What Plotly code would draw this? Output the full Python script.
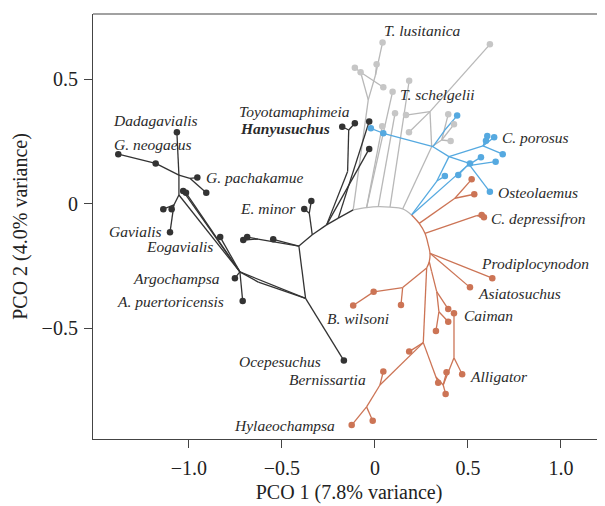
import plotly.graph_objects as go

# ---------------- data (PCO1, PCO2) ----------------
arc_names = ["A0","A1","A2","A3","A4","A5","A6","A7","A8","A9","A10","A11","A12"]
arc_x = [-0.197,-0.117,-0.045,0.018,0.081,0.149,0.197,0.238,0.269,0.287,0.296,0.292,0.278]
arc_y = [-0.057,-0.024,-0.015,-0.011,-0.013,-0.020,-0.044,-0.078,-0.118,-0.165,-0.198,-0.232,-0.257]

black_names = ["dada","neog","t_neog2","N1","Np","pach","t_p2","N2","N3","t_g1","t_g2","gavialis",
               "t_e1","t_e2","t_e3","N5","argo","apuer","N7","N8","oce","N9","t_l1","N10","t_l2","t_l3",
               "N11","Nem","em1","em2","N12","N13","N14","han1","han2","bk1","bk2"]
black_x = [-1.065,-1.380,-1.179,-1.054,-0.995,-0.955,-0.907,-1.054,-1.081,-1.138,-1.093,-1.102,
           -1.031,-1.016,-0.832,-0.726,-0.753,-0.711,-0.627,-0.373,-0.167,-0.409,-0.547,-0.629,-0.687,-0.708,
           -0.337,-0.353,-0.380,-0.342,-0.260,-0.147,-0.141,-0.176,-0.108,-0.031,-0.031]
black_y = [0.288,0.200,0.163,0.116,0.103,0.106,0.045,0.036,-0.004,-0.021,-0.021,-0.114,
           0.052,0.045,-0.133,-0.273,-0.298,-0.390,-0.314,-0.379,-0.629,-0.169,-0.142,-0.141,-0.133,-0.145,
           -0.124,-0.037,-0.020,0.012,-0.084,0.130,0.297,0.310,0.324,0.221,0.331]
black_tips = ["dada","neog","t_neog2","pach","t_p2","t_g1","t_g2","gavialis","t_e1","t_e2","t_e3",
              "argo","apuer","oce","t_l1","t_l2","t_l3","em1","em2","han1","han2","bk1","bk2"]
black_edges = [("N1","dada"),("N1","t_neog2"),("t_neog2","neog"),("N1","Np"),("Np","pach"),("Np","t_p2"),
               ("N1","N2"),("N2","N3"),("N3","t_g1"),("N3","t_g2"),("N3","gavialis"),("N2","N5"),
               ("N5","t_e1"),("N5","t_e2"),("N5","t_e3"),("N5","argo"),("N5","apuer"),("N5","N7"),
               ("N7","N8"),("N5","N8"),("N8","oce"),("N8","N9"),("N9","N10"),("N10","t_l2"),("N10","t_l3"),
               ("N9","t_l1"),("N9","N11"),("N11","Nem"),("Nem","em1"),("Nem","em2"),("N11","N12"),
               ("N12","A0"),("N12","N13"),("N13","N14"),("N14","han1"),("N14","han2"),("N12","bk1"),("A0","bk2")]

gray_names = ["lus","g_t2","g_t3","g_t4","g_t5","g_t6","g_t7","g_t8","g_t9","g_t10","g_t11","g_t12",
              "g_t13","g_t14","g_t15","G1","G2","G4","G5","G6"]
gray_x = [0.041,0.009,-0.108,-0.077,0.045,0.618,0.184,0.095,0.108,0.167,0.039,0.183,
          0.394,0.425,0.407,-0.036,0.003,0.305,0.296,0.359]
gray_y = [0.649,0.561,0.547,0.529,0.469,0.641,0.495,0.451,0.364,0.357,0.312,0.288,
          0.360,0.320,0.253,0.418,0.518,0.230,0.371,0.257]
gray_tips = ["lus","g_t2","g_t3","g_t4","g_t5","g_t6","g_t7","g_t8","g_t9","g_t10","g_t11","g_t12",
             "g_t13","g_t14","g_t15"]
gray_edges = [("A1","G1"),("G1","G2"),("G2","lus"),("G2","g_t2"),("G1","g_t4"),("g_t4","g_t3"),
              ("g_t4","g_t5"),("A2","g_t8"),("A2","g_t11"),("A3","g_t9"),("A4","g_t7"),("A5","G4"),
              ("G4","G5"),("G5","g_t6"),("G5","g_t10"),("G5","g_t12"),("G4","G6"),("G6","g_t13"),
              ("G6","g_t14"),("G6","g_t15")]

blue_names = ["b_t1","b_t2","b_t3","por1","por2","por3","b_t4","b_t5","b_t6","b_t7","b_t8","b_t9","osteo",
              "B0","B1","B3","B4","B5","B6","B7"]
blue_x = [-0.022,0.045,0.442,0.604,0.641,0.597,0.687,0.570,0.649,0.511,0.448,0.376,0.618,
          0.333,0.398,0.495,0.581,0.500,0.312,0.376]
blue_y = [0.304,0.284,0.355,0.273,0.268,0.254,0.200,0.188,0.170,0.163,0.116,0.112,0.049,
          0.092,0.190,0.153,0.233,0.165,0.230,0.297]
blue_tips = ["b_t1","b_t2","b_t3","por1","por2","por3","b_t4","b_t5","b_t6","b_t7","b_t8","b_t9","osteo"]
blue_edges = [("A6","B0"),("B0","b_t9"),("B0","B1"),("A6","B3"),("B3","b_t8"),("B3","b_t7"),("B3","b_t5"),
              ("B3","b_t6"),("B1","B4"),("B4","por1"),("B4","por2"),("B4","por3"),("B4","b_t4"),
              ("B1","B5"),("B5","osteo"),("B1","B6"),("B6","b_t2"),("b_t2","b_t1"),("B6","B7"),("B7","b_t3")]

orange_names = ["O_a","o_t1","o_t2","O_b","dep1","dep2","prod","asia","W","w_t1","w_t2","bwil",
                "C1","C2","c_t1","C3","c_t2","c_t3","O1","o_t3","O2","o_t4","O3","o_t5","hyl",
                "O4a","o_t6","O4","o_t7","o_t8","O5","alli","caiman"]
orange_x = [0.430,0.520,0.534,0.547,0.574,0.586,0.631,0.511,0.149,0.140,-0.007,-0.117,
            0.305,0.332,0.394,0.344,0.394,0.328,0.260,0.184,0.027,0.045,-0.045,-0.012,-0.125,
            0.328,0.340,0.367,0.380,0.385,0.425,0.469,0.425]
orange_y = [0.023,0.099,0.039,-0.047,-0.044,-0.053,-0.298,-0.335,-0.336,-0.406,-0.353,-0.408,
            -0.272,-0.352,-0.422,-0.433,-0.473,-0.510,-0.557,-0.593,-0.727,-0.673,-0.815,-0.871,-0.888,
            -0.695,-0.718,-0.727,-0.763,-0.676,-0.618,-0.684,-0.439]
orange_tips = ["o_t1","o_t2","dep1","dep2","prod","asia","w_t1","w_t2","bwil","c_t1","c_t2","c_t3",
               "o_t3","o_t4","o_t5","hyl","o_t6","o_t7","o_t8","alli","caiman"]
orange_edges = [("A7","O_a"),("O_a","o_t1"),("O_a","o_t2"),("A8","O_b"),("O_b","dep1"),("O_b","dep2"),
                ("A10","prod"),("A10","asia"),("A12","W"),("W","w_t1"),("W","w_t2"),("w_t2","bwil"),
                ("A11","C1"),("C1","C2"),("C2","c_t1"),("C2","C3"),("C3","c_t2"),("C3","c_t3"),
                ("A12","O1"),("O1","o_t3"),("O1","O2"),("O2","o_t4"),("O2","O3"),("O3","o_t5"),("O3","hyl"),
                ("O1","O4a"),("O4a","o_t6"),("O4a","O4"),("O4","o_t7"),("O4","o_t8"),("O4","O5"),
                ("O5","alli"),("O5","caiman")]

label_text = ["T. lusitanica","T. schelgelii","Toyotamaphimeia","Hanyusuchus","Dadagavialis","G. neogaeus",
              "G. pachakamue","E. minor","Gavialis","Eogavialis","Argochampsa","A. puertoricensis",
              "B. wilsoni","Ocepesuchus","Bernissartia","Hylaeochampsa","C. porosus","Osteolaemus",
              "C. depressifron","Prodiplocynodon","Asiatosuchus","Caiman","Alligator"]
label_x = [0.036,0.122,-0.744,-0.737,-1.419,-1.414,-0.919,-0.735,-1.441,-1.240,-1.312,-1.398,
           -0.269,-0.740,-0.036,-0.767,0.672,0.651,0.615,0.561,0.543,0.466,0.498]
label_y = [0.696,0.438,0.373,0.305,0.337,0.240,0.106,-0.020,-0.111,-0.169,-0.298,-0.392,
           -0.459,-0.631,-0.704,-0.888,0.268,0.045,-0.057,-0.241,-0.359,-0.446,-0.694]
label_anchor = ["left"]*14 + ["right"] + ["left"]*8

x_ticks = [-1.0, -0.5, 0, 0.5, 1.0]
x_ticktext = ["\u22121.0", "\u22120.5", "0", "0.5", "1.0"]
y_ticks = [-0.5, 0, 0.5]
y_ticktext = ["\u22120.5", "0", "0.5"]

# ---------------- build ----------------
nodes = {}
for names, xs, ys in [(arc_names, arc_x, arc_y), (black_names, black_x, black_y),
                      (gray_names, gray_x, gray_y), (blue_names, blue_x, blue_y),
                      (orange_names, orange_x, orange_y)]:
    for n, x, y in zip(names, xs, ys):
        nodes[n] = (x, y)

BLACK = "#333333"
GRAY = "#b8b8b8"
GRAYDOT = "#c6c6c6"
BLUE = "#55a9e0"
ORANGE = "#cc7455"

fig = go.Figure()

def add_edges(edges, color):
    xs, ys = [], []
    for a, b in edges:
        xs += [nodes[a][0], nodes[b][0], None]
        ys += [nodes[a][1], nodes[b][1], None]
    fig.add_trace(go.Scatter(x=xs, y=ys, mode="lines", line=dict(color=color, width=1.3),
                             hoverinfo="skip", showlegend=False))

def add_arc(i0, i1, color):
    fig.add_trace(go.Scatter(x=arc_x[i0:i1 + 1], y=arc_y[i0:i1 + 1], mode="lines",
                             line=dict(color=color, width=1.3, shape="spline"),
                             hoverinfo="skip", showlegend=False))

def add_tips(tips, color):
    fig.add_trace(go.Scatter(x=[nodes[t][0] for t in tips], y=[nodes[t][1] for t in tips],
                             mode="markers", marker=dict(color=color, size=6.5),
                             hoverinfo="skip", showlegend=False))

add_edges(gray_edges, GRAY)
add_arc(1, 6, GRAY)
add_edges(blue_edges, BLUE)
add_edges(orange_edges, ORANGE)
add_arc(6, 12, ORANGE)
add_edges(black_edges, BLACK)
add_arc(0, 1, BLACK)
add_tips(gray_tips, GRAYDOT)
add_tips(blue_tips, BLUE)
add_tips(orange_tips, ORANGE)
add_tips(black_tips, BLACK)

for t, x, y, anc in zip(label_text, label_x, label_y, label_anchor):
    txt = "<b><i>%s</i></b>" % t if t == "Hanyusuchus" else "<i>%s</i>" % t
    fig.add_annotation(x=x, y=y, text=txt, showarrow=False, xanchor=anc, yanchor="middle",
                       font=dict(family="Liberation Serif", size=15.5, color="#2a2a2a"))

axis_common = dict(showgrid=False, zeroline=False, showline=True, linecolor="#444444", linewidth=1.2,
                   ticks="outside", ticklen=8, tickwidth=1.2, tickcolor="#444444", automargin=False,
                   tickfont=dict(family="Liberation Serif", size=20, color="#222222"))

# the page body adds an 8px offset, so the figure is 8px smaller than the window
fig.update_layout(
    width=597, height=498,
    margin=dict(l=85, r=0, t=6, b=67),
    paper_bgcolor="white", plot_bgcolor="white",
    xaxis=dict(range=[-1.516, 1.237], tickvals=x_ticks, ticktext=x_ticktext,
               title=dict(text="PCO 1 (7.8% variance)", standoff=6,
                          font=dict(family="Liberation Serif", size=20, color="#222222")),
               ticklabelstandoff=3, **axis_common),
    yaxis=dict(range=[-0.944, 0.763], tickvals=y_ticks, ticktext=y_ticktext,
               title=dict(text="PCO 2 (4.0% variance)", standoff=8,
                          font=dict(family="Liberation Serif", size=20, color="#222222")),
               ticklabelstandoff=2, **axis_common),
    shapes=[dict(type="line", xref="paper", yref="paper", x0=0, x1=1, y0=1, y1=1,
                 line=dict(color="#444444", width=1.2))],
)

fig.write_html("out.html")
